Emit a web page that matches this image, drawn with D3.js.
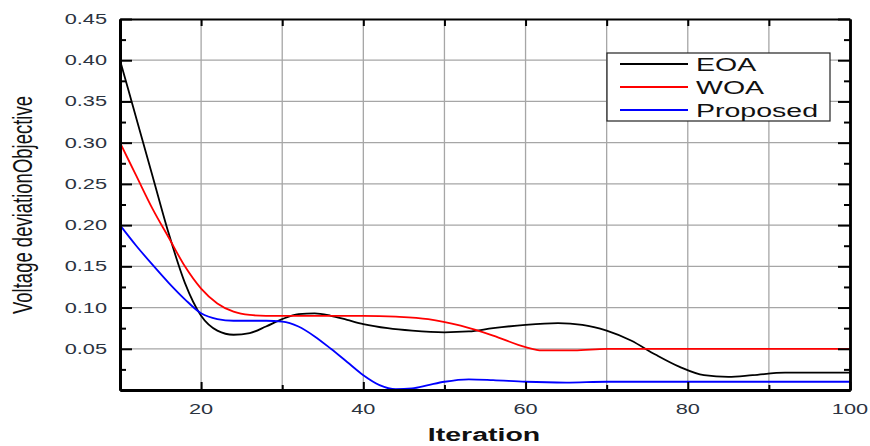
<!DOCTYPE html>
<html>
<head>
<meta charset="utf-8">
<script src="https://cdn.jsdelivr.net/npm/d3@7"></script>
<style>
  body { margin: 0; background: #fff; }
  svg { display: block; }
  text { font-family: "Liberation Sans", Arial, sans-serif; }
</style>
</head>
<body>
<svg id="chart"></svg>
<script>
// values
const eoaX = [10, 12, 14, 16, 18, 20, 22, 24, 26, 28, 30, 32, 34, 36, 38, 40, 43, 46, 50, 53, 56, 60, 64, 67, 70, 73, 76, 79, 82, 85, 88, 92, 100];
const eoaY = [0.40, 0.33, 0.26, 0.19, 0.13, 0.09, 0.072, 0.067, 0.069, 0.077, 0.086, 0.092, 0.093, 0.09, 0.085, 0.08, 0.075, 0.072, 0.07, 0.071, 0.075, 0.079, 0.081, 0.079, 0.072, 0.06, 0.043, 0.028, 0.018, 0.016, 0.018, 0.021, 0.021];

const woaX = [10, 12, 14, 16, 18, 20, 22, 24, 26, 28, 32, 36, 40, 44, 48, 52, 56, 60, 62, 66, 70, 100];
const woaY = [0.30, 0.26, 0.22, 0.185, 0.15, 0.123, 0.105, 0.095, 0.091, 0.09, 0.09, 0.09, 0.09, 0.089, 0.086, 0.078, 0.066, 0.052, 0.048, 0.048, 0.05, 0.05];

const propX = [10, 12, 14, 16, 18, 20, 22, 24, 26, 28, 30, 32, 34, 36, 38, 40, 42, 44, 46, 48, 50, 53, 56, 60, 65, 70, 100];
const propY = [0.20, 0.175, 0.152, 0.13, 0.11, 0.093, 0.086, 0.084, 0.084, 0.084, 0.083, 0.077, 0.065, 0.05, 0.034, 0.018, 0.006, 0.001, 0.002, 0.006, 0.01, 0.013, 0.012, 0.01, 0.009, 0.01, 0.01];

const seriesNames = ['EOA', 'WOA', 'Proposed'];
const seriesColors = ['#000000', '#ff0000', '#0000ff'];

const xMajor = [20, 40, 60, 80, 100];
const xMinor = [30, 50, 70, 90];
const xGrid = [20, 30, 40, 50, 60, 70, 80, 90];
const yMajor = [0.05, 0.10, 0.15, 0.20, 0.25, 0.30, 0.35, 0.40, 0.45];
const yMinor = [0.025, 0.075, 0.125, 0.175, 0.225, 0.275, 0.325, 0.375, 0.425];
const yGrid = [0.05, 0.10, 0.15, 0.20, 0.25, 0.30, 0.35, 0.40];

const W = 870, H = 446;
const plot = { left: 120, top: 19, right: 850, bottom: 390 };
const stretch = 1.5;   // picture is stretched horizontally

const svg = d3.select('#chart').attr('width', W).attr('height', H);

const x = d3.scaleLinear().domain([10, 100]).range([plot.left, plot.right]);
const y = d3.scaleLinear().domain([0, 0.45]).range([plot.bottom, plot.top]);

// GRID
svg.append('g').selectAll('line').data(xGrid).join('line')
    .attr('x1', d => x(d)).attr('x2', d => x(d))
    .attr('y1', plot.top).attr('y2', plot.bottom)
    .attr('stroke', '#a6a6a6').attr('stroke-width', 1.3);

svg.append('g').selectAll('line').data(yGrid).join('line')
    .attr('x1', plot.left).attr('x2', plot.right)
    .attr('y1', d => y(d)).attr('y2', d => y(d))
    .attr('stroke', '#a6a6a6').attr('stroke-width', 1.3);

// CURVES
const series = [[eoaX, eoaY], [woaX, woaY], [propX, propY]];
const line = d3.line()
    .x(d => x(d[0]))
    .y(d => y(d[1]))
    .curve(d3.curveMonotoneX);

series.forEach((s, i) => {
    const pts = s[0].map((v, k) => [v, s[1][k]]);
    svg.append('path')
        .datum(pts)
        .attr('d', line)
        .attr('fill', 'none')
        .attr('stroke', seriesColors[i])
        .attr('stroke-width', 1.8);
});

// AXES (ticks point inward)
function tickAxis(axis, tr, width) {
    const g = svg.append('g').attr('transform', tr).call(axis);
    g.select('.domain').attr('stroke', '#000').attr('stroke-width', width);
    g.selectAll('.tick line').attr('stroke', '#000').attr('stroke-width', 2);
    g.selectAll('.tick text').remove();
    return g;
}

tickAxis(d3.axisLeft(y).tickValues(yMajor).tickSize(-12).tickSizeOuter(0), 'translate(' + plot.left + ',0)', 3);
tickAxis(d3.axisLeft(y).tickValues(yMinor).tickSize(-6).tickSizeOuter(0), 'translate(' + plot.left + ',0)', 3);
tickAxis(d3.axisRight(y).tickValues(yMajor).tickSize(-12).tickSizeOuter(0), 'translate(' + plot.right + ',0)', 2.5);
tickAxis(d3.axisRight(y).tickValues(yMinor).tickSize(-6).tickSizeOuter(0), 'translate(' + plot.right + ',0)', 2.5);
tickAxis(d3.axisBottom(x).tickValues(xMajor).tickSize(-8).tickSizeOuter(0), 'translate(0,' + plot.bottom + ')', 3);
tickAxis(d3.axisBottom(x).tickValues(xMinor).tickSize(-5).tickSizeOuter(0), 'translate(0,' + plot.bottom + ')', 3);
tickAxis(d3.axisTop(x).tickValues(xGrid).tickSize(-7).tickSizeOuter(0), 'translate(0,' + plot.top + ')', 2);

// TICK LABELS
const labelColor = '#2b3340';
svg.append('g').selectAll('text').data(yMajor).join('text')
    .attr('transform', d => 'translate(107,' + (y(d) + 5) + ') scale(' + stretch + ',1)')
    .attr('text-anchor', 'end')
    .attr('font-size', 14.5)
    .attr('fill', labelColor)
    .text(d => d3.format('.2f')(d));

svg.append('g').selectAll('text').data(xMajor).join('text')
    .attr('transform', d => 'translate(' + x(d) + ',414) scale(' + stretch + ',1)')
    .attr('text-anchor', 'middle')
    .attr('font-size', 14.5)
    .attr('fill', labelColor)
    .text(d => d);

// AXIS TITLES
svg.append('text')
    .attr('transform', 'translate(484,441) scale(' + stretch + ',1)')
    .attr('text-anchor', 'middle')
    .attr('font-size', 19)
    .attr('font-weight', 'bold')
    .attr('fill', '#111')
    .text('Iteration');

svg.append('text')
    .attr('transform', 'translate(32,205) scale(' + stretch + ',1) rotate(-90)')
    .attr('text-anchor', 'middle')
    .attr('font-size', 18.5)
    .attr('fill', '#111')
    .text('Voltage deviationObjective');

// LEGEND
const legend = svg.append('g');
legend.append('rect')
    .attr('x', 607).attr('y', 53).attr('width', 223).attr('height', 68)
    .attr('fill', '#fff').attr('stroke', '#222').attr('stroke-width', 1.2);

seriesNames.forEach((name, i) => {
    const ly = 64 + i * 23;
    legend.append('line')
        .attr('x1', 620).attr('x2', 688)
        .attr('y1', ly).attr('y2', ly)
        .attr('stroke', seriesColors[i]).attr('stroke-width', 1.8);
    legend.append('text')
        .attr('transform', 'translate(696,' + (ly + 7) + ') scale(' + stretch + ',1)')
        .attr('font-size', 19)
        .attr('fill', '#111')
        .text(name);
});
</script>
</body>
</html>
